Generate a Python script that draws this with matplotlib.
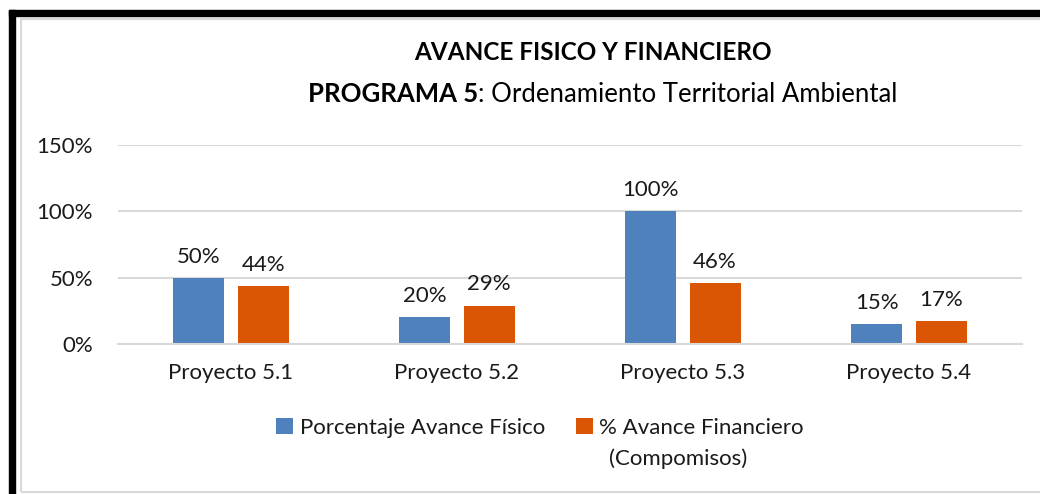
import numpy as np
import matplotlib.pyplot as plt
from matplotlib.patches import Rectangle

proyectos = ['Proyecto 5.1', 'Proyecto 5.2', 'Proyecto 5.3', 'Proyecto 5.4']
fisico = [50, 20, 100, 15]
financiero = [44, 29, 46, 17]
yticks = [0, 50, 100, 150]

azul = '#4f81bd'
naranja = '#da5504'
gris = '#d9d9d9'
fs = 16

plt.rcParams['font.family'] = ['Lato', 'DejaVu Sans']

fig = plt.figure(figsize=(10.4, 4.94), dpi=100)

# marco: negro arriba e izquierda, gris interior
fig.patches.append(Rectangle((9 / 1040, 0), 6 / 1040, 1 - 10 / 494,
                             transform=fig.transFigure, color='black', zorder=0))
fig.patches.append(Rectangle((9 / 1040, 1 - 16 / 494), 1, 6 / 494,
                             transform=fig.transFigure, color='black', zorder=0))
fig.patches.append(Rectangle((21 / 1040, 2 / 494), 1.2, 1 - 21 / 494,
                             transform=fig.transFigure, fill=False,
                             edgecolor=gris, lw=1.5, zorder=0))

ax = fig.add_axes([118 / 1040, 1 - 344 / 494, 904 / 1040, 199 / 494])
x = np.arange(len(proyectos))
w = 0.225
off = 0.142
b1 = ax.bar(x - off, fisico, w, color=azul, zorder=2)
b2 = ax.bar(x + off, financiero, w, color=naranja, zorder=2)

for bars, vals in ((b1, fisico), (b2, financiero)):
    for r, v in zip(bars, vals):
        ax.annotate(f'{v}%', (r.get_x() + r.get_width() / 2, v),
                    xytext=(0, 8), textcoords='offset points',
                    ha='center', va='bottom', fontsize=fs, color='#1a1a1a')

ax.set_xlim(-0.5, len(proyectos) - 0.5)
ax.set_ylim(0, 150)
ax.set_yticks(yticks)
ax.set_yticklabels([f'{t}%' for t in yticks])
ax.set_xticks(x)
ax.set_xticklabels(proyectos)
ax.tick_params(axis='both', length=0, labelsize=fs, colors='#1a1a1a')
ax.tick_params(axis='y', pad=18)
ax.tick_params(axis='x', pad=14)
ax.grid(axis='y', color=gris, lw=1.5, zorder=0)
for s in ['top', 'right', 'left']:
    ax.spines[s].set_visible(False)
ax.spines['bottom'].set_color(gris)
ax.spines['bottom'].set_linewidth(1.5)

# titulo
fig.text(593 / 1040, 1 - 52 / 494, 'AVANCE FISICO Y FINANCIERO',
         ha='center', va='center', fontsize=17.5, fontweight='bold')
fig.canvas.draw()
r = fig.canvas.get_renderer()
t1 = fig.text(0, 1 - 94 / 494, 'PROGRAMA 5', ha='left', va='center',
              fontsize=18.5, fontweight='bold')
t2 = fig.text(0, 1 - 94 / 494, ': Ordenamiento Territorial Ambiental',
              ha='left', va='center', fontsize=18.5)
w1 = t1.get_window_extent(r).width
w2 = t2.get_window_extent(r).width
x0 = 603 - (w1 + w2) / 2
t1.set_x(x0 / 1040)
t2.set_x((x0 + w1) / 1040)

leg = fig.legend([b1, b2], ['Porcentaje Avance Físico', '% Avance Financiero'],
                 loc='center', bbox_to_anchor=(540 / 1040, 1 - 428 / 494),
                 ncol=2, frameon=False, fontsize=fs, handlelength=0.75,
                 handleheight=0.75, handletextpad=0.3, columnspacing=1.4)
for t in leg.get_texts():
    t.set_color('#1a1a1a')

fig.canvas.draw()
bb = leg.get_texts()[1].get_window_extent(r)
fig.text((bb.x0 + 10) / 1040, 1 - 459 / 494, '(Compomisos)', ha='left',
         va='center', fontsize=fs, color='#1a1a1a')

fig.savefig('out.png', dpi=100)
